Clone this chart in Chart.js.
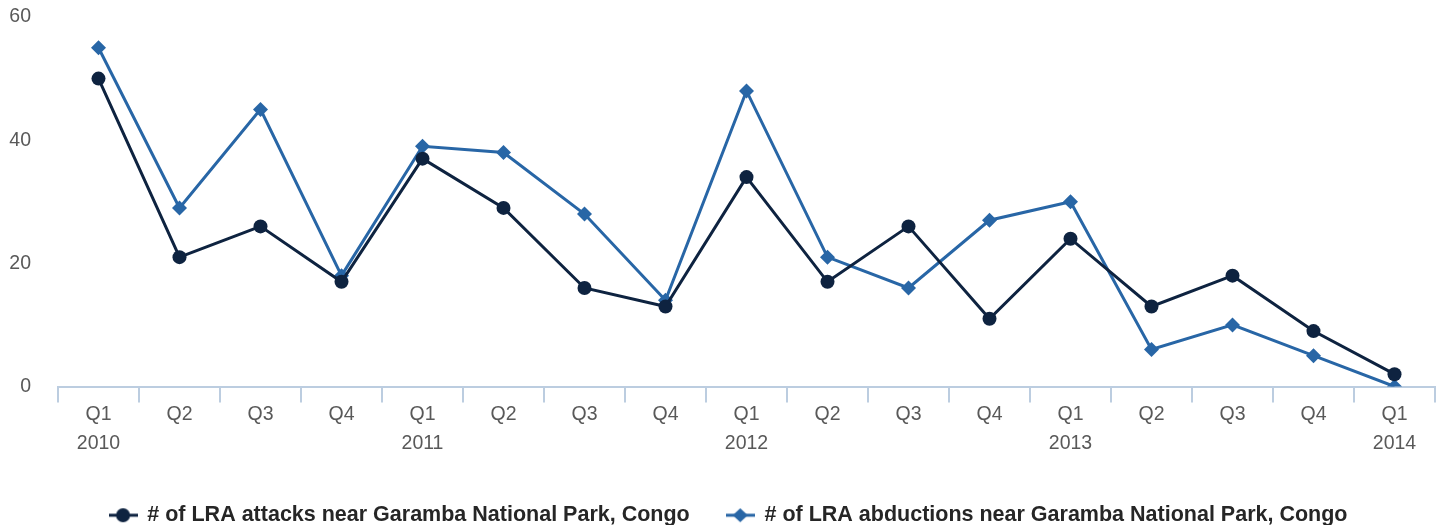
<!DOCTYPE html>
<html>
<head>
<meta charset="utf-8">
<script src="https://cdn.jsdelivr.net/npm/chart.js@4/dist/chart.umd.min.js"></script>
<style>
  html, body { margin: 0; padding: 0; background: #ffffff; }
  #wrap { width: 1444px; height: 525px; }
</style>
</head>
<body>
<div id="wrap"><canvas id="chart-lra" width="1444" height="525"></canvas></div>
<script>
// DATOS DE LA GRÁFICA
const quarters = ['Q1', 'Q2', 'Q3', 'Q4', 'Q1', 'Q2', 'Q3', 'Q4', 'Q1', 'Q2', 'Q3', 'Q4', 'Q1', 'Q2', 'Q3', 'Q4', 'Q1'];
const years = ['2010', '', '', '', '2011', '', '', '', '2012', '', '', '', '2013', '', '', '', '2014'];
const attacks = [50, 21, 26, 17, 37, 29, 16, 13, 34, 17, 26, 11, 24, 13, 18, 9, 2];
const abductions = [55, 29, 45, 18, 39, 38, 28, 14, 48, 21, 16, 27, 30, 6, 10, 5, 0];
const yTicks = [0, 20, 40, 60];

const seriesNames = [
  '# of LRA attacks near Garamba National Park, Congo',
  '# of LRA abductions near Garamba National Park, Congo'
];
const darkColor = '#0e2340';
const blueColor = '#2866a6';
const axisColor = '#bccde0';
const tickColor = '#595959';
const fontFamily = 'Liberation Sans, Arial, sans-serif';

// ICONO DE LEYENDA: LÍNEA CON MARCADOR
function legendIcon(color, shape) {
  const c = document.createElement('canvas');
  c.width = 29; c.height = 16;
  const g = c.getContext('2d');
  g.strokeStyle = color;
  g.fillStyle = color;
  g.lineWidth = 3;
  g.beginPath(); g.moveTo(0, 8); g.lineTo(29, 8); g.stroke();
  g.beginPath();
  if (shape === 'circle') {
    g.arc(14.5, 8, 7, 0, Math.PI * 2);
  } else {
    g.moveTo(14.5, 1); g.lineTo(22, 8); g.lineTo(14.5, 15); g.lineTo(7, 8); g.closePath();
  }
  g.fill();
  return c;
}

// DESPLAZAR LA LEYENDA PARA CENTRARLA COMO EN EL ORIGINAL
const legendShift = {
  id: 'legendShift',
  afterLayout(chart) {
    chart.legend.left += 7;
    chart.legend.right += 7;
  }
};

const labels = quarters.map((q, i) => [q, years[i]]);
const ctx = document.getElementById('chart-lra');

new Chart(ctx, {
  type: 'line',
  data: {
    labels: labels,
    datasets: [{
      label: seriesNames[0],
      data: attacks,
      borderColor: darkColor,
      backgroundColor: darkColor,
      borderWidth: 3,
      tension: 0,
      pointStyle: 'circle',
      pointRadius: 7,
      pointBackgroundColor: darkColor,
      pointBorderWidth: 0
    }, {
      label: seriesNames[1],
      data: abductions,
      borderColor: blueColor,
      backgroundColor: blueColor,
      borderWidth: 3,
      tension: 0,
      pointStyle: 'rectRot',
      pointRadius: 7.5,
      pointBackgroundColor: blueColor,
      pointBorderWidth: 0
    }]
  },
  plugins: [legendShift],
  options: {
    responsive: false,
    animation: false,
    layout: { padding: { left: 8, right: 9, top: 17, bottom: -11 } },
    plugins: {
      tooltip: { enabled: false },
      legend: {
        position: 'bottom',
        labels: {
          color: '#262626',
          font: { family: fontFamily, size: 21.5, weight: 'bold' },
          usePointStyle: true,
          pointStyleWidth: 27,
          boxHeight: 16,
          padding: 37,
          generateLabels: function(chart) {
            return chart.data.datasets.map((ds, i) => ({
              text: ds.label,
              datasetIndex: i,
              fillStyle: ds.borderColor,
              strokeStyle: ds.borderColor,
              fontColor: '#262626',
              pointStyle: legendIcon(ds.borderColor, i === 0 ? 'circle' : 'diamond'),
              hidden: false
            }));
          }
        }
      }
    },
    scales: {
      y: {
        min: 0,
        max: 60,
        afterBuildTicks: function(axis) {
          axis.ticks = yTicks.map(v => ({ value: v }));
        },
        afterFit: function(axis) {
          axis.width = 50;
        },
        border: { display: false },
        grid: { display: false, drawTicks: true, tickLength: 27 },
        ticks: {
          color: tickColor,
          padding: 0,
          font: { family: fontFamily, size: 19.5 }
        }
      },
      x: {
        offset: true,
        afterFit: function(axis) {
          axis.height = 81;
        },
        border: { display: true, color: axisColor, width: 2 },
        grid: {
          offset: true,
          drawOnChartArea: false,
          drawTicks: true,
          tickLength: 16,
          color: axisColor,
          lineWidth: 2
        },
        ticks: {
          color: tickColor,
          maxRotation: 0,
          autoSkip: false,
          padding: -2,
          font: { family: fontFamily, size: 19.5, lineHeight: 29 / 19.5 }
        }
      }
    }
  }
});
</script>
</body>
</html>
